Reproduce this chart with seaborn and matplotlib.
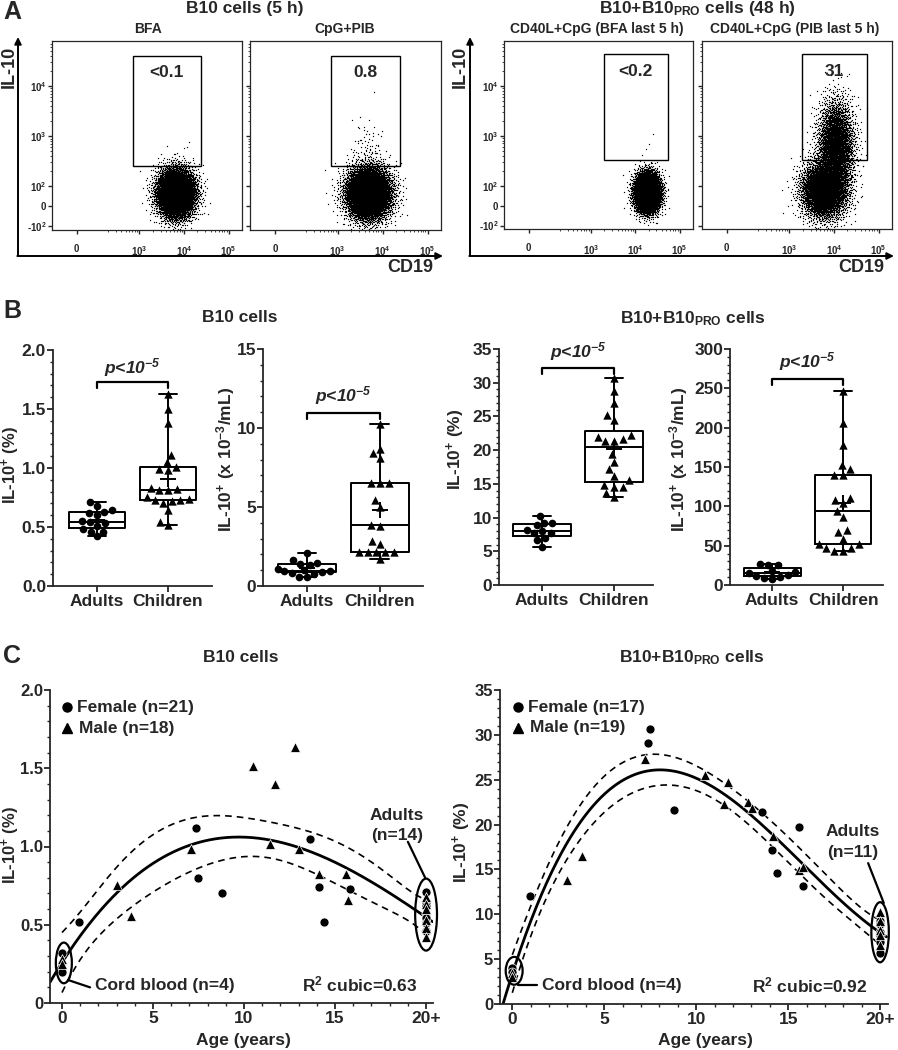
import numpy as np
import pandas as pd
import matplotlib
matplotlib.use("Agg")
import matplotlib.pyplot as plt
import seaborn as sns
from matplotlib.patches import Ellipse, Rectangle
from matplotlib.ticker import MultipleLocator, SymmetricalLogLocator, NullFormatter

# ======================= DATA =======================
groups = ["Adults", "Children"]

# ---- Panel A : flow cytometry gates ----
gate_labels = ["<0.1", "0.8", "<0.2", "31"]
gate_cd19_lo = [720, 720, 1950, 1950]
gate_cd19_hi = [24000, 24000, 54000, 54000]
gate_il10_lo = [257, 257, 326, 326]
gate_il10_hi = [40000, 40000, 44000, 44000]

# event clouds: panel, events, centre (CD19, IL-10), spread (display decades)
cloud_panel = [0, 0, 1, 1, 2, 2, 3, 3]
cloud_events = [7000, 2, 7000, 70, 6500, 3, 4800, 3600]
cloud_cd19 = [6600, 12000, 4800, 4500, 18600, 20000, 6000, 11000]
cloud_il10 = [67, 600, 67, 600, 67, 700, 80, 630]
cloud_cd19_sd = [0.21, 0.05, 0.25, 0.18, 0.14, 0.05, 0.25, 0.20]
cloud_il10_sd = [0.24, 0.10, 0.26, 0.30, 0.19, 0.15, 0.28, 0.45]

# ---- Panel B ----
b10_pct_adults = [0.71, 0.68, 0.64, 0.63, 0.62, 0.60, 0.55, 0.54, 0.53, 0.51, 0.48, 0.46, 0.46, 0.42]
b10_pct_children = [1.63, 1.50, 1.38, 1.11, 1.05, 1.01, 0.99, 0.98, 0.83, 0.82, 0.81, 0.81, 0.75,
                    0.74, 0.73, 0.73, 0.72, 0.70, 0.64, 0.54, 0.52]
b10_num_adults = [2.10, 1.65, 1.45, 1.40, 1.35, 1.05, 1.00, 0.95, 0.95, 0.90, 0.85, 0.75, 0.60, 0.55]
b10_num_children = [10.25, 8.70, 8.40, 8.08, 6.50, 6.50, 6.50, 5.44, 5.02, 3.86, 3.80, 2.83, 2.66,
                    2.17, 2.17, 2.17, 2.17, 2.17, 1.69]
pro_pct_adults = [10.2, 9.25, 9.25, 8.9, 8.2, 8.06, 7.67, 7.67, 6.9, 6.6, 5.7]
pro_pct_children = [30.7, 28.8, 27.0, 25.2, 24.5, 22.2, 22.0, 21.7, 21.4, 21.4, 19.5, 18.3, 17.2,
                    16.2, 15.5, 14.8, 14.6, 14.5, 13.6, 13.1]
pro_num_adults = [26.5, 26.0, 25.0, 18.0, 16.5, 15.0, 13.0, 12.0, 10.5, 9.0, 8.0]
pro_num_children = [247, 206, 178, 152, 147, 140, 140, 110, 108, 104, 94, 87, 70, 68, 59, 52, 52,
                    47, 47, 43, 43]
p_text = "p<10$^{-5}$"

# ---- Panel C ----
c1_female_age = [0, 0, 0.92, 7.35, 7.48, 8.8, 13.6, 14.1, 14.4, 15.8]
c1_female_val = [0.32, 0.20, 0.52, 1.12, 0.80, 0.70, 1.05, 0.74, 0.52, 0.73]
c1_male_age = [0, 0, 3.0, 3.8, 7.1, 10.5, 11.4, 11.7, 12.8, 13.0, 14.1, 15.6, 15.7]
c1_male_val = [0.28, 0.25, 0.755, 0.557, 0.985, 1.517, 1.017, 1.398, 1.638, 0.985, 0.826, 0.826, 0.655]
c1_adult_sex = ["F", "M", "F", "M", "F", "M", "F", "F", "M", "F", "M", "F", "F", "M"]

c2_female_age = [0, 0, 0.96, 7.4, 7.5, 8.8, 13.6, 14.1, 14.4, 15.6, 15.8]
c2_female_val = [4.0, 3.6, 12.0, 29.1, 30.7, 21.6, 21.4, 17.2, 14.6, 19.7, 13.2]
c2_male_age = [0, 0, 3.0, 3.8, 7.2, 10.5, 11.5, 11.75, 12.8, 13.05, 14.15, 15.6, 15.8]
c2_male_val = [3.4, 3.0, 13.8, 16.5, 27.3, 25.5, 22.3, 24.7, 22.5, 21.9, 18.7, 14.9, 15.3]
c2_adult_sex = ["M", "F", "M", "F", "M", "F", "M", "F", "F", "M", "F"]
adult_age = 20

# ======================= STYLE =======================
sns.set_theme(style="ticks")
plt.rcParams["font.family"] = ["Liberation Sans", "DejaVu Sans"]
plt.rcParams["font.weight"] = "bold"
plt.rcParams["axes.labelweight"] = "bold"
plt.rcParams["mathtext.default"] = "regular"
plt.rcParams["axes.linewidth"] = 1.3

W, H = 898, 1050
fig = plt.figure(figsize=(W / 100, H / 100), dpi=100)

overlay = fig.add_axes([0, 0, 1, 1])
overlay.set_xlim(0, W)
overlay.set_ylim(H, 0)
overlay.axis("off")
overlay.patch.set_visible(False)


def add_ax(l, t, r, b):
    return fig.add_axes([l / W, 1 - b / H, (r - l) / W, (b - t) / H])


def ftext(x, y, s, **kw):
    kw.setdefault("ha", "center")
    kw.setdefault("va", "center")
    kw.setdefault("fontweight", "bold")
    overlay.text(x, y, s, **kw)


# ======================= PANEL A =======================
LINT, LSCALE = 100.0, 0.36
LS_ADJ = LSCALE / 0.9


def to_T(a):
    a = np.asarray(a, float)
    return np.where(np.abs(a) <= LINT, a / LINT * LS_ADJ,
                    np.sign(a) * (LS_ADJ + np.log10(np.maximum(np.abs(a), 1e-9) / LINT)))


def from_T(t):
    t = np.asarray(t, float)
    return np.where(np.abs(t) <= LS_ADJ, t / LS_ADJ * LINT,
                    np.sign(t) * LINT * 10 ** (np.abs(t) - LS_ADJ))


def halton(n, base, skip):
    out = np.zeros(n)
    for i in range(n):
        f, r, k = 1.0, 0.0, i + 1 + skip
        while k > 0:
            f /= base
            r += f * (k % base)
            k //= base
        out[i] = r
    return out


def lattice_normal(n, skip):
    u = np.clip(halton(n, 2, skip), 1e-6, 1)
    v = halton(n, 3, skip)
    r = np.sqrt(-2 * np.log(u))
    return r * np.cos(2 * np.pi * v), r * np.sin(2 * np.pi * v)


flow_boxes = [(52, 41, 242, 230), (250, 41, 441, 230), (504, 41, 693, 229), (702, 41, 892, 229)]
for k, (l, t, r, b) in enumerate(flow_boxes):
    ax = add_ax(l, t, r, b)
    ax.set_xscale("symlog", linthresh=LINT, linscale=LSCALE)
    ax.set_yscale("symlog", linthresh=LINT, linscale=LSCALE)
    xs, ys = [], []
    for j in range(len(cloud_panel)):
        if cloud_panel[j] != k:
            continue
        z1, z2 = lattice_normal(cloud_events[j], 37 + 1000 * j)
        xs.append(from_T(to_T(cloud_cd19[j]) + cloud_cd19_sd[j] * z1))
        ys.append(from_T(to_T(cloud_il10[j]) + cloud_il10_sd[j] * z2))
    sns.scatterplot(x=np.concatenate(xs), y=np.concatenate(ys), s=0.9, color="black",
                    linewidth=0, ax=ax, legend=False)
    ax.add_patch(Rectangle((gate_cd19_lo[k], gate_il10_lo[k]), gate_cd19_hi[k] - gate_cd19_lo[k],
                           gate_il10_hi[k] - gate_il10_lo[k], fill=False, lw=1.0, ec="black"))
    gx = from_T((to_T(gate_cd19_lo[k]) + to_T(gate_cd19_hi[k])) / 2)
    ax.text(gx, from_T(2.68), gate_labels[k], ha="center", va="center", fontsize=12.5,
            fontweight="bold", zorder=5)
    ax.set_xlim(from_T(-0.553), from_T(3.70))
    ax.set_ylim(from_T(-0.47), from_T(3.30))
    ax.set_xticks([0, 1e3, 1e4, 1e5])
    ax.set_xticklabels(["0", "10$^3$", "10$^4$", "10$^5$"])
    ax.set_yticks([-100, 0, 100, 1e3, 1e4])
    ax.set_yticklabels(["-10$^2$", "0", "10$^2$", "10$^3$", "10$^4$"])
    ax.xaxis.set_minor_locator(SymmetricalLogLocator(linthresh=LINT, base=10, subs=np.arange(2, 10)))
    ax.yaxis.set_minor_locator(SymmetricalLogLocator(linthresh=LINT, base=10, subs=np.arange(2, 10)))
    ax.xaxis.set_minor_formatter(NullFormatter())
    ax.yaxis.set_minor_formatter(NullFormatter())
    ax.tick_params(axis="x", which="major", length=3, width=1, labelsize=7, pad=7, direction="out")
    ax.tick_params(axis="y", which="major", length=3, width=1, labelsize=7, pad=1, direction="out")
    ax.tick_params(which="minor", length=1.5, width=0.6, direction="out")
    ax.set_xlabel("")
    ax.set_ylabel("")
    for sp in ax.spines.values():
        sp.set_linewidth(0.9)
    if k in (1, 3):
        ax.set_yticklabels([])

arrow_kw = dict(arrowstyle="-|>", lw=1.4, color="black", mutation_scale=10, shrinkA=0, shrinkB=0)
for x0, x1 in [(18, 443), (470, 894)]:
    overlay.annotate("", xy=(x0, 37), xytext=(x0, 256), arrowprops=arrow_kw)
    overlay.annotate("", xy=(x1, 256), xytext=(x0 - 0.7, 256), arrowprops=arrow_kw)

ftext(3, 12, "A", ha="left", fontsize=18)
ftext(245, 9, "B10 cells (5 h)", fontsize=12.5)
ftext(697, 9, "B10+B10$_{PRO}$ cells (48 h)", fontsize=12.5)
ftext(148, 29, "BFA", fontsize=10)
ftext(345, 29, "CpG+PIB", fontsize=10)
ftext(597, 29, "CD40L+CpG (BFA last 5 h)", fontsize=10)
ftext(795, 29, "CD40L+CpG (PIB last 5 h)", fontsize=10)
for x in (9, 460):
    ftext(x, 67, "IL-10", rotation=90, fontsize=13)
ftext(410, 268, "CD19", fontsize=13)
ftext(861, 268, "CD19", fontsize=13)

# ======================= PANEL B =======================
b_specs = [
    (b10_pct_adults, b10_pct_children, (53, 350, 212, 586), 2.0, [0, 0.5, 1.0, 1.5, 2.0],
     ["0.0", "0.5", "1.0", "1.5", "2.0"], 0.1, (-0.621, 1.621), (1.68, 1.73, 1.755)),
    (b10_num_adults, b10_num_children, (263, 349, 423, 586), 15, [0, 5, 10, 15],
     ["0", "5", "10", "15"], 1, (-0.603, 1.59), (10.6, 10.95, 11.35)),
    (pro_pct_adults, pro_pct_children, (499, 349, 653, 585), 35, [0, 5, 10, 15, 20, 25, 30, 35],
     ["0", "5", "10", "15", "20", "25", "30", "35"], 1, (-0.596, 1.541), (31.3, 32.2, 32.9)),
    (pro_num_adults, pro_num_children, (730, 349, 883, 585), 300, [0, 50, 100, 150, 200, 250, 300],
     ["0", "50", "100", "150", "200", "250", "300"], 10, (-0.593, 1.562), (254, 262, 269.5)),
]
for adults, children, box, ytop, yt, ytl, minor, xl, br in b_specs:
    ax = add_ax(*box)
    df = pd.DataFrame({"group": ["Adults"] * len(adults) + ["Children"] * len(children),
                       "val": list(adults) + list(children)})
    sns.boxplot(data=df, x="group", y="val", order=groups, ax=ax, fill=False, color="black",
                linecolor="black", linewidth=1.4, width=0.8, whis=(0, 100), showfliers=False,
                showmeans=True, capwidths=0.26,
                meanprops=dict(marker="+", markeredgecolor="black", markersize=11, markeredgewidth=1.4))
    sns.swarmplot(data=df[df.group == "Adults"], x="group", y="val", order=groups, ax=ax,
                  marker="o", color="black", size=5.5)
    sns.swarmplot(data=df[df.group == "Children"], x="group", y="val", order=groups, ax=ax,
                  marker="^", color="black", size=6)
    ax.plot([0, 0, 1, 1], [br[0], br[1], br[1], br[0]], color="black", lw=1.6, clip_on=False)
    ax.text(0.5, br[2], p_text, ha="center", va="bottom", fontsize=12.5, fontweight="bold",
            style="italic")
    ax.set_xlim(*xl)
    ax.set_ylim(0, ytop)
    ax.set_yticks(yt)
    ax.set_yticklabels(ytl)
    ax.yaxis.set_minor_locator(MultipleLocator(minor))
    ax.set_xticks([0, 1])
    ax.set_xticklabels(groups)
    ax.tick_params(axis="x", which="major", length=4, width=1.3, labelsize=12.5, pad=2)
    ax.tick_params(axis="y", which="major", length=4, width=1.3, labelsize=12.5, pad=1)
    ax.tick_params(axis="y", which="minor", length=2, width=1.0)
    ax.set_xlabel("")
    ax.set_ylabel("")
    sns.despine(ax=ax)

ftext(3, 311, "B", ha="left", fontsize=18)
ftext(240, 318, "B10 cells", fontsize=12.5)
ftext(693, 319, "B10+B10$_{PRO}$ cells", fontsize=12.5)
ftext(11, 465, "IL-10$^{+}$ (%)", rotation=90, fontsize=12)
ftext(226, 459, "IL-10$^{+}$ (x 10$^{-3}$/mL)", rotation=90, fontsize=12.5)
ftext(456, 449, "IL-10$^{+}$ (%)", rotation=90, fontsize=12.5)
ftext(679, 459, "IL-10$^{+}$ (x 10$^{-3}$/mL)", rotation=90, fontsize=12.5)

# ======================= PANEL C =======================


def cubic_band(x, y, grid):
    X = np.vander(x, 4)
    beta, *_ = np.linalg.lstsq(X, y, rcond=None)
    resid = y - X @ beta
    s2 = resid @ resid / (len(y) - 4)
    cov = s2 * np.linalg.inv(X.T @ X)
    G = np.vander(grid, 4)
    fit = G @ beta
    se = np.sqrt(np.einsum("ij,jk,ik->i", G, cov, G))
    return fit, fit - 2.02 * se, fit + 2.02 * se


c_specs = [
    (c1_female_age, c1_female_val, c1_male_age, c1_male_val, b10_pct_adults, c1_adult_sex,
     (50, 690, 433, 1003), (-0.66, 20.38), 2.0, [0, 0.5, 1.0, 1.5, 2.0], ["0", "0.5", "1.0", "1.5", "2.0"],
     0.1, "Female (n=21)", "Male (n=18)", "(n=14)", "R$^2$ cubic=0.63",
     dict(cord=((0.1, 0.256), 0.88, 0.26), adult=((20, 0.565), 1.2, 0.46),
          cordline=((0.33, 0.147), (1.54, 0.10)), text_cord=(1.8, 0.115),
          adline=((19.95, 0.80), (19.0, 1.03)), text_ad=(18.4, 1.20, 1.07),
          r2=(19.5, 0.12), leg=(0.27, 1.89, 1.757, 0.82))),
    (c2_female_age, c2_female_val, c2_male_age, c2_male_val, pro_pct_adults, c2_adult_sex,
     (500, 690, 888, 1004), (-0.67, 20.43), 35, [0, 5, 10, 15, 20, 25, 30, 35],
     ["0", "5", "10", "15", "20", "25", "30", "35"], 1, "Female (n=17)", "Male (n=19)", "(n=11)",
     "R$^2$ cubic=0.92",
     dict(cord=((0.1, 3.7), 0.92, 3.1), adult=((20, 8.0), 0.95, 6.7),
          cordline=((0.3, 2.1), (1.35, 2.1)), text_cord=(1.62, 2.1),
          adline=((20.2, 11.26), (19.35, 15.7)), text_ad=(18.5, 19.2, 16.9),
          r2=(19.3, 2.1), leg=(0.31, 33.1, 30.8, 0.86))),
]
for (fa, fv, ma, mv, adv, asex, box, xl, ytop, yt, ytl, minor, ftxt, mtxt, ntxt, r2txt, ann) in c_specs:
    ax = add_ax(*box)
    ad_f = [v for v, s in zip(adv, asex) if s == "F"]
    ad_m = [v for v, s in zip(adv, asex) if s == "M"]
    fem_x = list(fa) + [adult_age] * len(ad_f)
    fem_y = list(fv) + ad_f
    mal_x = list(ma) + [adult_age] * len(ad_m)
    mal_y = list(mv) + ad_m
    sns.scatterplot(x=fem_x, y=fem_y, marker="o", color="black", s=42, edgecolor="white",
                    linewidth=0.5, ax=ax, legend=False, zorder=3, clip_on=False)
    sns.scatterplot(x=mal_x, y=mal_y, marker="^", color="black", s=50, edgecolor="white",
                    linewidth=0.5, ax=ax, legend=False, zorder=3, clip_on=False)
    allx = np.array(fem_x + mal_x, float)
    ally = np.array(fem_y + mal_y, float)
    g_full = np.linspace(xl[0], 20.35, 300)
    fit, _, _ = cubic_band(allx, ally, g_full)
    g_ci = np.linspace(0, 20.0, 300)
    _, lo, hi = cubic_band(allx, ally, g_ci)
    ax.plot(g_full, fit, color="black", lw=2.0, zorder=2)
    ax.plot(g_ci, lo, color="black", lw=1.2, ls=(0, (4, 3)), zorder=2)
    ax.plot(g_ci, hi, color="black", lw=1.2, ls=(0, (4, 3)), zorder=2)
    for key in ("cord", "adult"):
        c, w_, h_ = ann[key]
        ax.add_patch(Ellipse(c, w_, h_, fill=False, lw=1.6, ec="black", zorder=4, clip_on=False))
    (x0, y0), (x1, y1) = ann["cordline"]
    ax.plot([x0, x1], [y0, y1], color="black", lw=1.6)
    ax.text(ann["text_cord"][0], ann["text_cord"][1], "Cord blood (n=4)", ha="left", va="center",
            fontsize=12.5, fontweight="bold")
    (x0, y0), (x1, y1) = ann["adline"]
    ax.plot([x0, x1], [y0, y1], color="black", lw=1.6, clip_on=False)
    tx, ty1, ty2 = ann["text_ad"]
    ax.text(tx, ty1, "Adults", ha="center", va="center", fontsize=12.5, fontweight="bold")
    ax.text(tx, ty2, ntxt, ha="center", va="center", fontsize=12.5, fontweight="bold")
    ax.text(ann["r2"][0], ann["r2"][1], r2txt, ha="right", va="center", fontsize=12.5,
            fontweight="bold")
    lx, ly1, ly2, ltx = ann["leg"]
    ax.plot([lx], [ly1], marker="o", color="black", ms=6.5, ls="none")
    ax.plot([lx], [ly2], marker="^", color="black", ms=6.5, ls="none")
    ax.text(ltx, ly1, ftxt, ha="left", va="center", fontsize=12.5, fontweight="bold")
    ax.text(ltx + 0.1, ly2, mtxt, ha="left", va="center", fontsize=12.5, fontweight="bold")
    ax.set_xlim(*xl)
    ax.set_ylim(0, ytop)
    ax.set_yticks(yt)
    ax.set_yticklabels(ytl)
    ax.yaxis.set_minor_locator(MultipleLocator(minor))
    ax.set_xticks([0, 5, 10, 15, 20])
    ax.set_xticklabels(["0", "5", "10", "15", "20+"])
    ax.xaxis.set_minor_locator(MultipleLocator(1))
    ax.tick_params(axis="x", which="major", length=4, width=1.3, labelsize=12.5, pad=2)
    ax.tick_params(axis="y", which="major", length=4, width=1.3, labelsize=12, pad=1)
    ax.tick_params(axis="both", which="minor", length=2, width=1.0)
    ax.set_xlabel("")
    ax.set_ylabel("")
    sns.despine(ax=ax)

ftext(3, 656, "C", ha="left", fontsize=18)
ftext(241, 658, "B10 cells", fontsize=12.5)
ftext(692, 658, "B10+B10$_{PRO}$ cells", fontsize=12.5)
ftext(11, 845, "IL-10$^{+}$ (%)", rotation=90, fontsize=12)
ftext(462, 842, "IL-10$^{+}$ (%)", rotation=90, fontsize=12.5)
ftext(243, 1040, "Age (years)", fontsize=12.5)
ftext(705, 1040, "Age (years)", fontsize=12.5)

fig.savefig("out.png", dpi=100)
